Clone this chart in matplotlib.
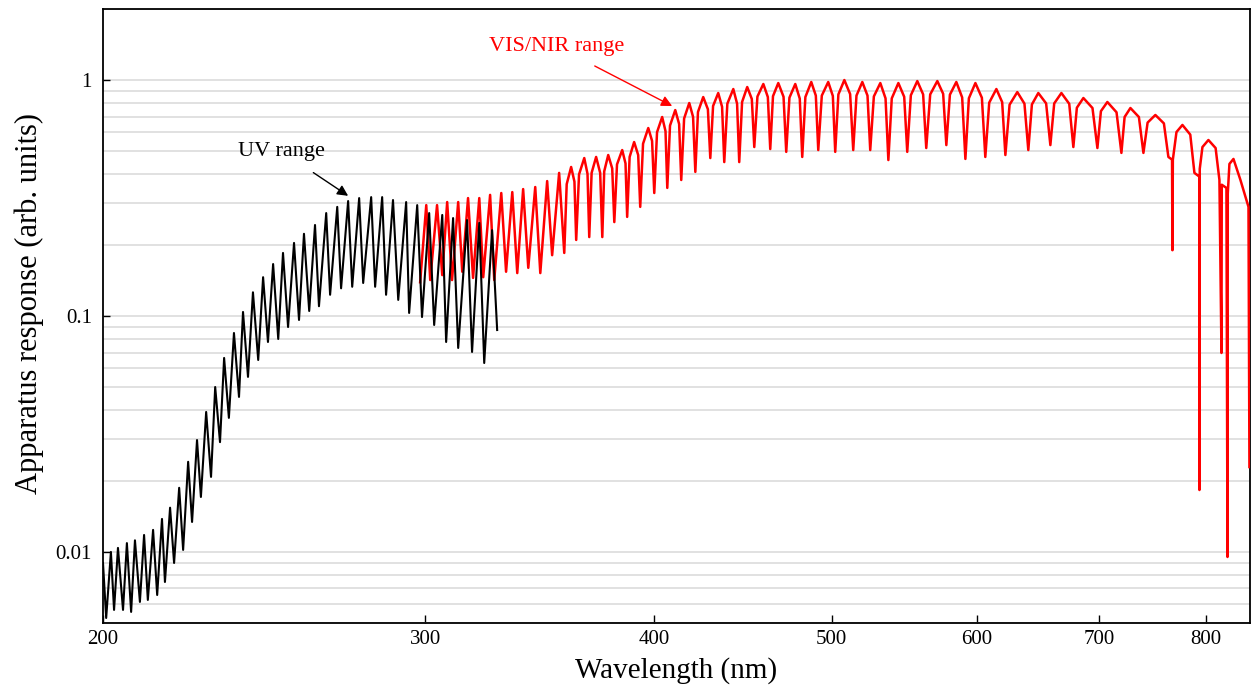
import numpy as np
import matplotlib
matplotlib.use("Agg")
import matplotlib.pyplot as plt
from matplotlib.ticker import FixedLocator, FixedFormatter, NullFormatter, NullLocator, LogLocator

plt.rcParams['font.family'] = ['Liberation Serif', 'DejaVu Serif']

# UV range: fringe vertices (trough / peak)
uv_wl = [200.0, 200.8, 202.0, 202.8, 203.8, 205.1, 206.1, 207.2, 208.2, 209.5,
         210.6, 211.6, 213.0, 214.1, 215.4, 216.2, 217.6, 218.7, 220.1, 221.2,
         222.6, 223.7, 225.1, 226.2, 227.7, 229.1, 230.3, 231.7, 232.9, 234.3,
         235.8, 237.3, 238.5, 240.0, 241.5, 243.1, 244.6, 246.1, 247.7, 249.3,
         250.8, 252.4, 254.3, 255.9, 257.5, 259.2, 261.1, 262.4, 264.8, 266.1,
         268.5, 269.8, 272.2, 273.6, 276.0, 277.4, 280.2, 281.6, 284.1, 285.5,
         288.0, 289.9, 292.8, 293.9, 296.9, 298.7, 301.4, 303.3, 306.4, 307.9,
         310.6, 312.6, 316.1, 318.1, 321.0, 323.0, 326.2, 328.3]
uv_resp = [0.00898, 0.00525, 0.0100, 0.00568, 0.0104, 0.00568, 0.0109, 0.00557, 0.0112, 0.00614,
           0.0118, 0.00626, 0.0124, 0.00657, 0.0138, 0.00746, 0.0154, 0.00898, 0.0187, 0.0102,
           0.0241, 0.0134, 0.0298, 0.0171, 0.0392, 0.0208, 0.0500, 0.0292, 0.0664, 0.0370,
           0.0847, 0.0454, 0.104, 0.0552, 0.126, 0.0651, 0.146, 0.0776, 0.166, 0.0799,
           0.185, 0.0898, 0.204, 0.0962, 0.223, 0.105, 0.243, 0.110, 0.273, 0.123,
           0.290, 0.131, 0.307, 0.133, 0.316, 0.138, 0.319, 0.133, 0.319, 0.123,
           0.310, 0.117, 0.304, 0.103, 0.295, 0.0990, 0.273, 0.0916, 0.268, 0.0776,
           0.260, 0.0732, 0.255, 0.0704, 0.248, 0.0632, 0.231, 0.0872]

# VIS/NIR range: troughs, shoulders and peaks of each fringe, plus the narrow dips
vis_wl = [298.0, 300.3, 301.8, 304.4, 306.4, 308.3, 310.2, 312.6, 314.2, 316.5,
          318.5, 321.0, 322.6, 325.4, 327.1, 330.0, 332.0, 334.6, 336.7, 339.2,
          341.4, 344.4, 346.6, 349.6, 351.8, 354.9, 357.2, 358.3, 360.3, 361.8,
          362.6, 363.9, 366.3, 367.8, 368.6, 369.7, 371.8, 373.7, 374.7, 375.6,
          377.5, 379.4, 380.4, 381.7, 384.2, 385.8, 386.6, 387.8, 390.0, 392.0,
          393.0, 394.4, 397.0, 398.9, 400.0, 401.4, 404.0, 405.7, 406.6, 408.0,
          410.7, 412.7, 413.8, 415.3, 418.0, 420.0, 421.2, 422.6, 425.4, 427.9,
          429.2, 430.7, 433.5, 435.6, 436.8, 438.5, 441.8, 443.9, 445.1, 446.7,
          449.6, 452.2, 453.6, 455.4, 458.8, 461.4, 462.8, 464.4, 467.5, 470.6,
          472.2, 474.1, 477.6, 480.3, 481.8, 483.7, 487.3, 490.1, 491.6, 493.8,
          497.8, 500.7, 502.2, 504.2, 508.0, 511.7, 513.7, 515.8, 519.6, 523.0,
          524.8, 527.2, 531.5, 535.0, 536.9, 539.2, 543.7, 547.7, 549.8, 552.3,
          556.8, 560.9, 563.1, 565.9, 571.0, 575.2, 577.5, 580.1, 584.8, 589.1,
          591.5, 594.1, 599.0, 603.9, 606.5, 609.5, 615.0, 619.5, 622.0, 625.3,
          631.4, 637.1, 640.2, 643.1, 648.3, 654.7, 658.2, 661.4, 667.4, 674.0,
          677.5, 680.5, 686.1, 694.0, 698.3, 701.4, 707.1, 715.3, 719.7, 722.6,
          727.9, 735.7, 739.9, 743.8, 751.1, 759.2, 763.5, 767.0, 767.4, 767.8,
          771.3, 777.1, 784.8, 788.9, 793.7, 793.9, 794.2, 796.9, 802.9, 810.2,
          814.1, 816.2, 816.5, 821.3, 822.4, 822.7, 824.4, 828.6, 835.9, 844.4,
          845.4]
vis_resp = [0.139, 0.295, 0.142, 0.295, 0.149, 0.304, 0.142, 0.304, 0.154, 0.316,
            0.145, 0.316, 0.146, 0.326, 0.142, 0.332, 0.154, 0.335, 0.152, 0.345,
            0.160, 0.352, 0.152, 0.373, 0.181, 0.404, 0.185, 0.362, 0.428, 0.371,
            0.210, 0.398, 0.467, 0.400, 0.216, 0.404, 0.472, 0.404, 0.216, 0.410,
            0.481, 0.422, 0.250, 0.439, 0.505, 0.443, 0.263, 0.472, 0.546, 0.481,
            0.290, 0.537, 0.626, 0.552, 0.332, 0.601, 0.697, 0.607, 0.349, 0.641,
            0.746, 0.651, 0.377, 0.687, 0.799, 0.698, 0.408, 0.732, 0.847, 0.752,
            0.467, 0.776, 0.881, 0.770, 0.449, 0.794, 0.916, 0.794, 0.449, 0.807,
            0.934, 0.831, 0.520, 0.851, 0.962, 0.847, 0.510, 0.854, 0.971, 0.849,
            0.496, 0.842, 0.962, 0.834, 0.472, 0.847, 0.981, 0.859, 0.505, 0.859,
            0.981, 0.856, 0.496, 0.869, 1.000, 0.872, 0.505, 0.859, 0.981, 0.859,
            0.505, 0.852, 0.971, 0.836, 0.458, 0.836, 0.971, 0.849, 0.496, 0.862,
            0.990, 0.869, 0.515, 0.869, 0.990, 0.874, 0.530, 0.867, 0.981, 0.844,
            0.463, 0.837, 0.971, 0.841, 0.472, 0.802, 0.916, 0.806, 0.481, 0.786,
            0.889, 0.794, 0.505, 0.788, 0.881, 0.796, 0.530, 0.796, 0.881, 0.793,
            0.520, 0.763, 0.839, 0.761, 0.515, 0.738, 0.807, 0.730, 0.491, 0.697,
            0.761, 0.697, 0.491, 0.660, 0.711, 0.655, 0.472, 0.46, 0.190, 0.46,
            0.602, 0.645, 0.587, 0.404, 0.39, 0.0183, 0.42, 0.520, 0.557, 0.515,
            0.377, 0.0697, 0.36, 0.349, 0.00952, 0.33, 0.441, 0.463, 0.377, 0.290,
            0.0229]

x_ticks = [200, 300, 400, 500, 600, 700, 800]
y_ticks = [0.01, 0.1, 1]
y_tick_labels = ['0.01', '0.1', '1']

fig = plt.figure(figsize=(12.53, 6.87), dpi=100)
ax = fig.add_axes([0.0822, 0.0932, 0.9154, 0.8937])

ax.plot(vis_wl, vis_resp, color='red', lw=1.8, zorder=3)
ax.plot(uv_wl, uv_resp, color='black', lw=1.5, zorder=4)

ax.set_xscale('log')
ax.set_yscale('log')
ax.set_xlim(200, 846)
ax.set_ylim(0.005, 2)

ax.xaxis.set_major_locator(FixedLocator(x_ticks))
ax.xaxis.set_major_formatter(FixedFormatter([str(t) for t in x_ticks]))
ax.xaxis.set_minor_locator(NullLocator())
ax.yaxis.set_major_locator(FixedLocator(y_ticks))
ax.yaxis.set_major_formatter(FixedFormatter(y_tick_labels))
ax.yaxis.set_minor_locator(LogLocator(base=10, subs=np.arange(2, 10)))
ax.yaxis.set_minor_formatter(NullFormatter())

ax.grid(True, axis='y', which='both', color='#dcdcdc', lw=1.2, zorder=0)
ax.tick_params(axis='x', direction='in', length=6, width=1, labelsize=15, pad=5)
ax.tick_params(axis='y', which='major', direction='in', length=5, width=1, labelsize=15, pad=8)
ax.tick_params(axis='y', which='minor', length=0)
for s in ax.spines.values():
    s.set_linewidth(1.3)

ax.set_xlabel('Wavelength (nm)', fontsize=21, labelpad=6)
ax.set_ylabel('Apparatus response (arb. units)', fontsize=22)
ax.yaxis.set_label_coords(-0.0514, 0.521)

ax.annotate('UV range', xy=(272.2, 0.323), xytext=(250.2, 0.50),
            fontsize=16, ha='center', va='center', color='black',
            arrowprops=dict(arrowstyle='-|>', color='black', lw=1, mutation_scale=16,
                            shrinkA=12, shrinkB=0))
ax.annotate('VIS/NIR range', xy=(409.1, 0.776), xytext=(353.6, 1.393),
            fontsize=16, ha='center', va='center', color='red',
            arrowprops=dict(arrowstyle='-|>', color='red', lw=1, mutation_scale=16,
                            shrinkA=12, shrinkB=0))

fig.savefig('out.png', dpi=100)
